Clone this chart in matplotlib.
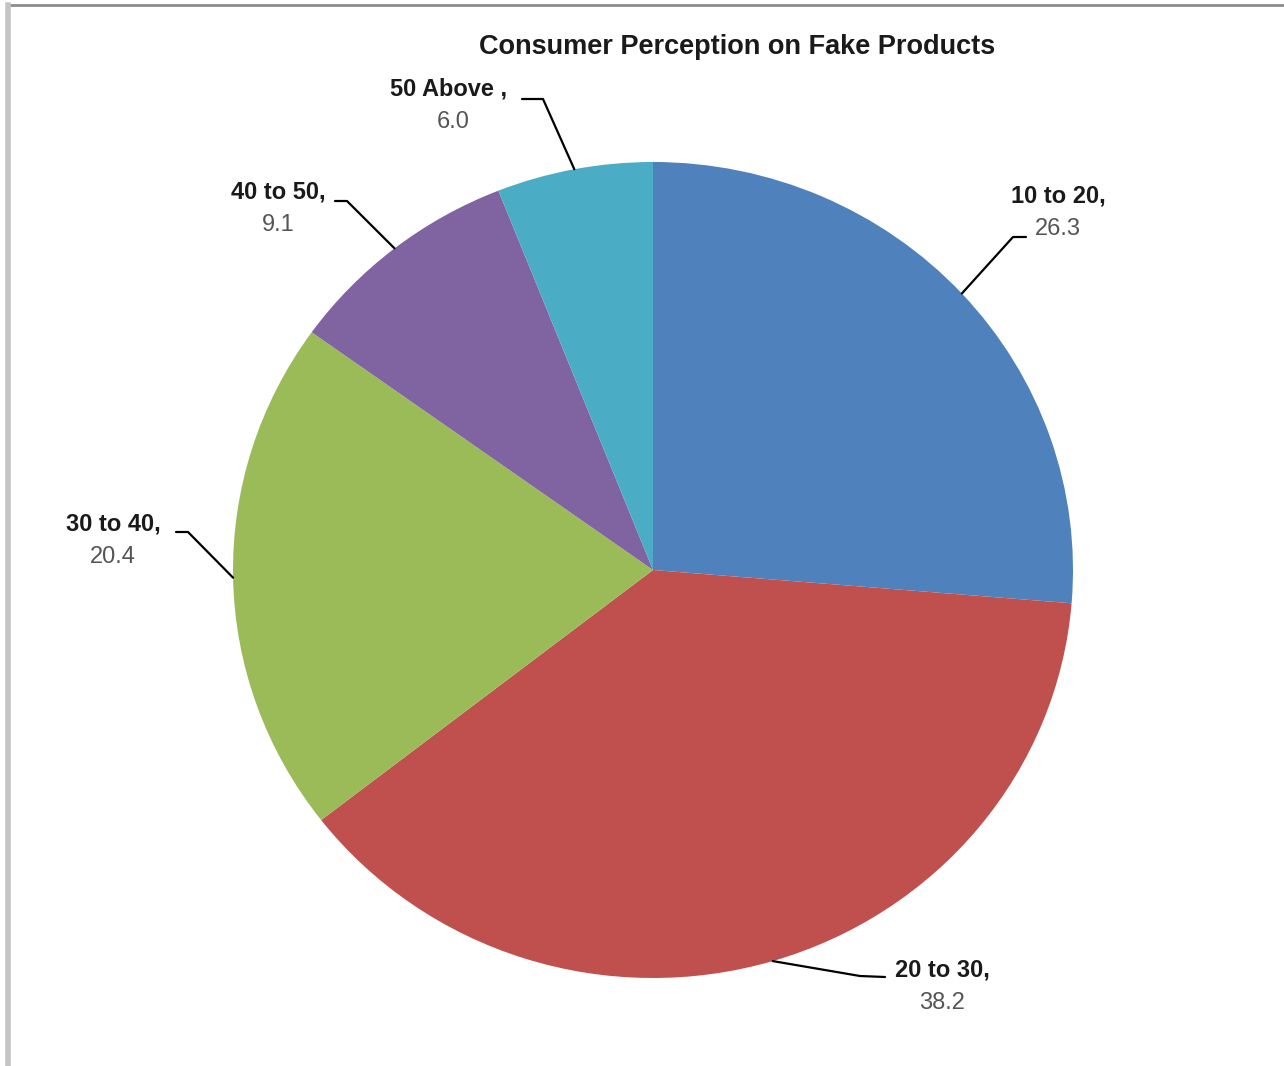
import numpy as np
import matplotlib.pyplot as plt
from matplotlib.lines import Line2D

# Data
groups = ["10 to 20", "20 to 30", "30 to 40", "40 to 50", "50 Above"]
shares = [26.3, 38.2, 20.4, 9.1, 6.0]
colors = ["#4F81BD", "#C0504D", "#9BBB59", "#8064A2", "#4BACC6"]

W, H = 1284, 1066
fig = plt.figure(figsize=(W / 100, H / 100), dpi=100)
ax = fig.add_axes([0, 0, 1, 1])

# the pie is slightly squashed vertically in the reference
ky = 420 / 408


def py(p):
    # pixel row (from top) -> data y
    return (H - p) * ky


cx, cy, r = 653, py(570), 420
wedges, _ = ax.pie(shares, colors=colors, startangle=90, counterclock=False,
                   center=(cx, cy), radius=r,
                   wedgeprops=dict(linewidth=0, edgecolor="none"))
ax.set_xlim(0, W)
ax.set_ylim(0, H * ky)
ax.set_aspect("auto")
ax.axis("off")

# leader line elbow, line end, and label anchor (pixel layout)
layout = {
    "10 to 20": dict(elbow=(1013, 237), end=(1026, 237), text=(1058, 196)),
    "20 to 30": dict(elbow=(860, 976), end=(885, 977), text=(942, 970)),
    "30 to 40": dict(elbow=(188, 532), end=(176, 532), text=(113, 524)),
    "40 to 50": dict(elbow=(347, 201), end=(335, 201), text=(278, 192)),
    "50 Above": dict(elbow=(543, 99), end=(522, 99), text=(449, 89)),
}

font = "Liberation Sans"
for w, g, v in zip(wedges, groups, shares):
    ang = np.deg2rad((w.theta1 + w.theta2) / 2)
    ex, ey = cx + r * np.cos(ang), cy + r * np.sin(ang)
    L = layout[g]
    xs = [ex, L["elbow"][0], L["end"][0]]
    ys = [ey, py(L["elbow"][1]), py(L["end"][1])]
    ax.plot(xs, ys, color="black", lw=1.6, solid_capstyle="round")
    tx, ty = L["text"]
    sep = " ," if g == "50 Above" else ","
    ax.text(tx, py(ty), g + sep, ha="center", va="center", fontsize=17,
            fontweight="bold", color="#1a1a1a", family=font)
    ax.text(tx + (4 if g == "50 Above" else 0), py(ty + 33), f"{v:.1f}",
            ha="center", va="center", fontsize=17, color="#555555", family=font)

fig.text(737 / W, 1 - 47 / H, "Consumer Perception on Fake Products",
         ha="center", va="center", fontsize=19.5, fontweight="bold",
         color="#1a1a1a", family=font)

# screenshot frame lines
fig.add_artist(Line2D([8 / W, 1], [1 - 5 / H, 1 - 5 / H], color="#8c8c8c", lw=2))
fig.add_artist(Line2D([8 / W, 8 / W], [0, 1 - 5 / H], color="#c4c4c4", lw=4))

fig.savefig("out.png", dpi=100, facecolor="white")
